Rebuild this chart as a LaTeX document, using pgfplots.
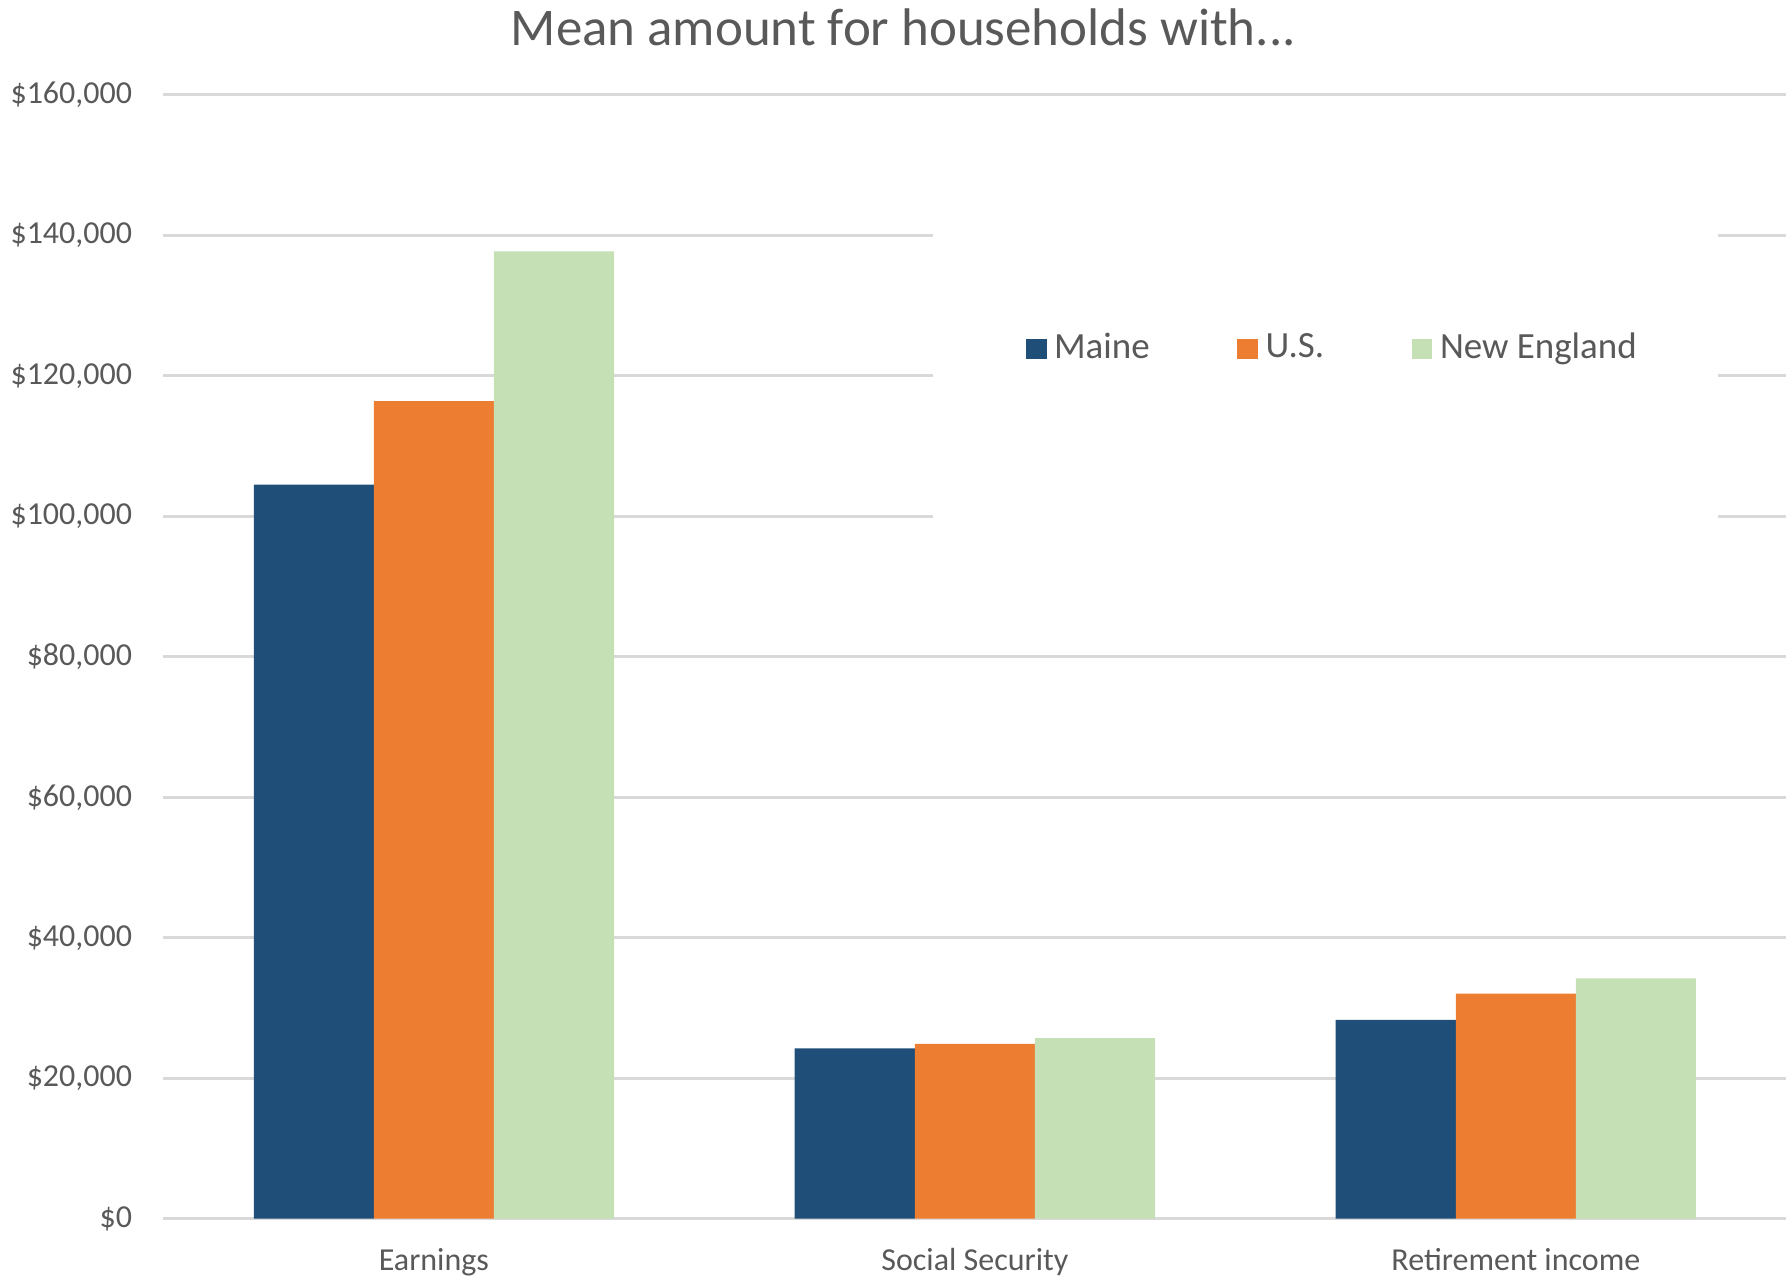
\documentclass[border=0pt]{standalone}
\usepackage{pgfplots}
\pgfplotsset{compat=1.18}
\usepackage{fontspec}
\setmainfont{Carlito}
\definecolor{maine}{RGB}{31,78,121}
\definecolor{us}{RGB}{237,125,49}
\definecolor{ne}{RGB}{197,224,180}
\definecolor{gridgray}{RGB}{217,217,217}
\definecolor{txt}{RGB}{89,89,89}
\pgfplotsset{sqleg/.style={legend image code/.code={\fill[##1] (0pt,-2.7pt) rectangle (5.4pt,2.7pt);}}}
\begin{document}
\begin{tikzpicture}
\begin{axis}[
  scale only axis, width=426pt, height=295pt,
  ybar, bar width=0.222,
  xmin=-0.5, xmax=2.5, ymin=0, ymax=160000,
  xtick={0,1,2},
  xticklabels={Earnings, Social Security, Retirement income},
  ytick={0,20000,40000,60000,80000,100000,120000,140000,160000},
  yticklabels={\$0,{\$20,000},{\$40,000},{\$60,000},{\$80,000},{\$100,000},{\$120,000},{\$140,000},{\$160,000}},
  scaled y ticks=false,
  axis line style={draw=none},
  major tick length=0pt,
  ymajorgrids, grid style={gridgray, line width=0.75pt},
  tick label style={font=\fontsize{8.4}{10}\selectfont, text=txt},
  yticklabel style={xshift=-4.7pt},
  xticklabel style={yshift=-4.2pt},
  title={Mean amount for households with...},
  title style={font=\fontsize{13.9}{16}\selectfont, text=txt, at={(0.456,1)}, anchor=base, yshift=7pt},
  legend columns=3,
  legend style={at={(0.722,0.774)}, anchor=center, draw=none, fill=none,
    font=\fontsize{9.7}{12}\selectfont, text=txt,
    /tikz/every even column/.append style={column sep=21pt}},
]
\fill[white] (rel axis cs:0.474,0.6165) rectangle (rel axis cs:0.958,0.886);
\addplot[fill=maine, draw=none, bar shift=-0.222, sqleg] coordinates {(0,104500) (1,24250) (2,28300)};
\addplot[fill=us, draw=none, bar shift=0, sqleg] coordinates {(0,116400) (1,24900) (2,32050)};
\addplot[fill=ne, draw=none, bar shift=0.222, sqleg] coordinates {(0,137700) (1,25700) (2,34200)};
\legend{Maine, U.S., New England}
\end{axis}
\pgfresetboundingbox
\path (-42.9pt,-15.3pt) rectangle (427.5pt,319.9pt);
\end{tikzpicture}
\end{document}
